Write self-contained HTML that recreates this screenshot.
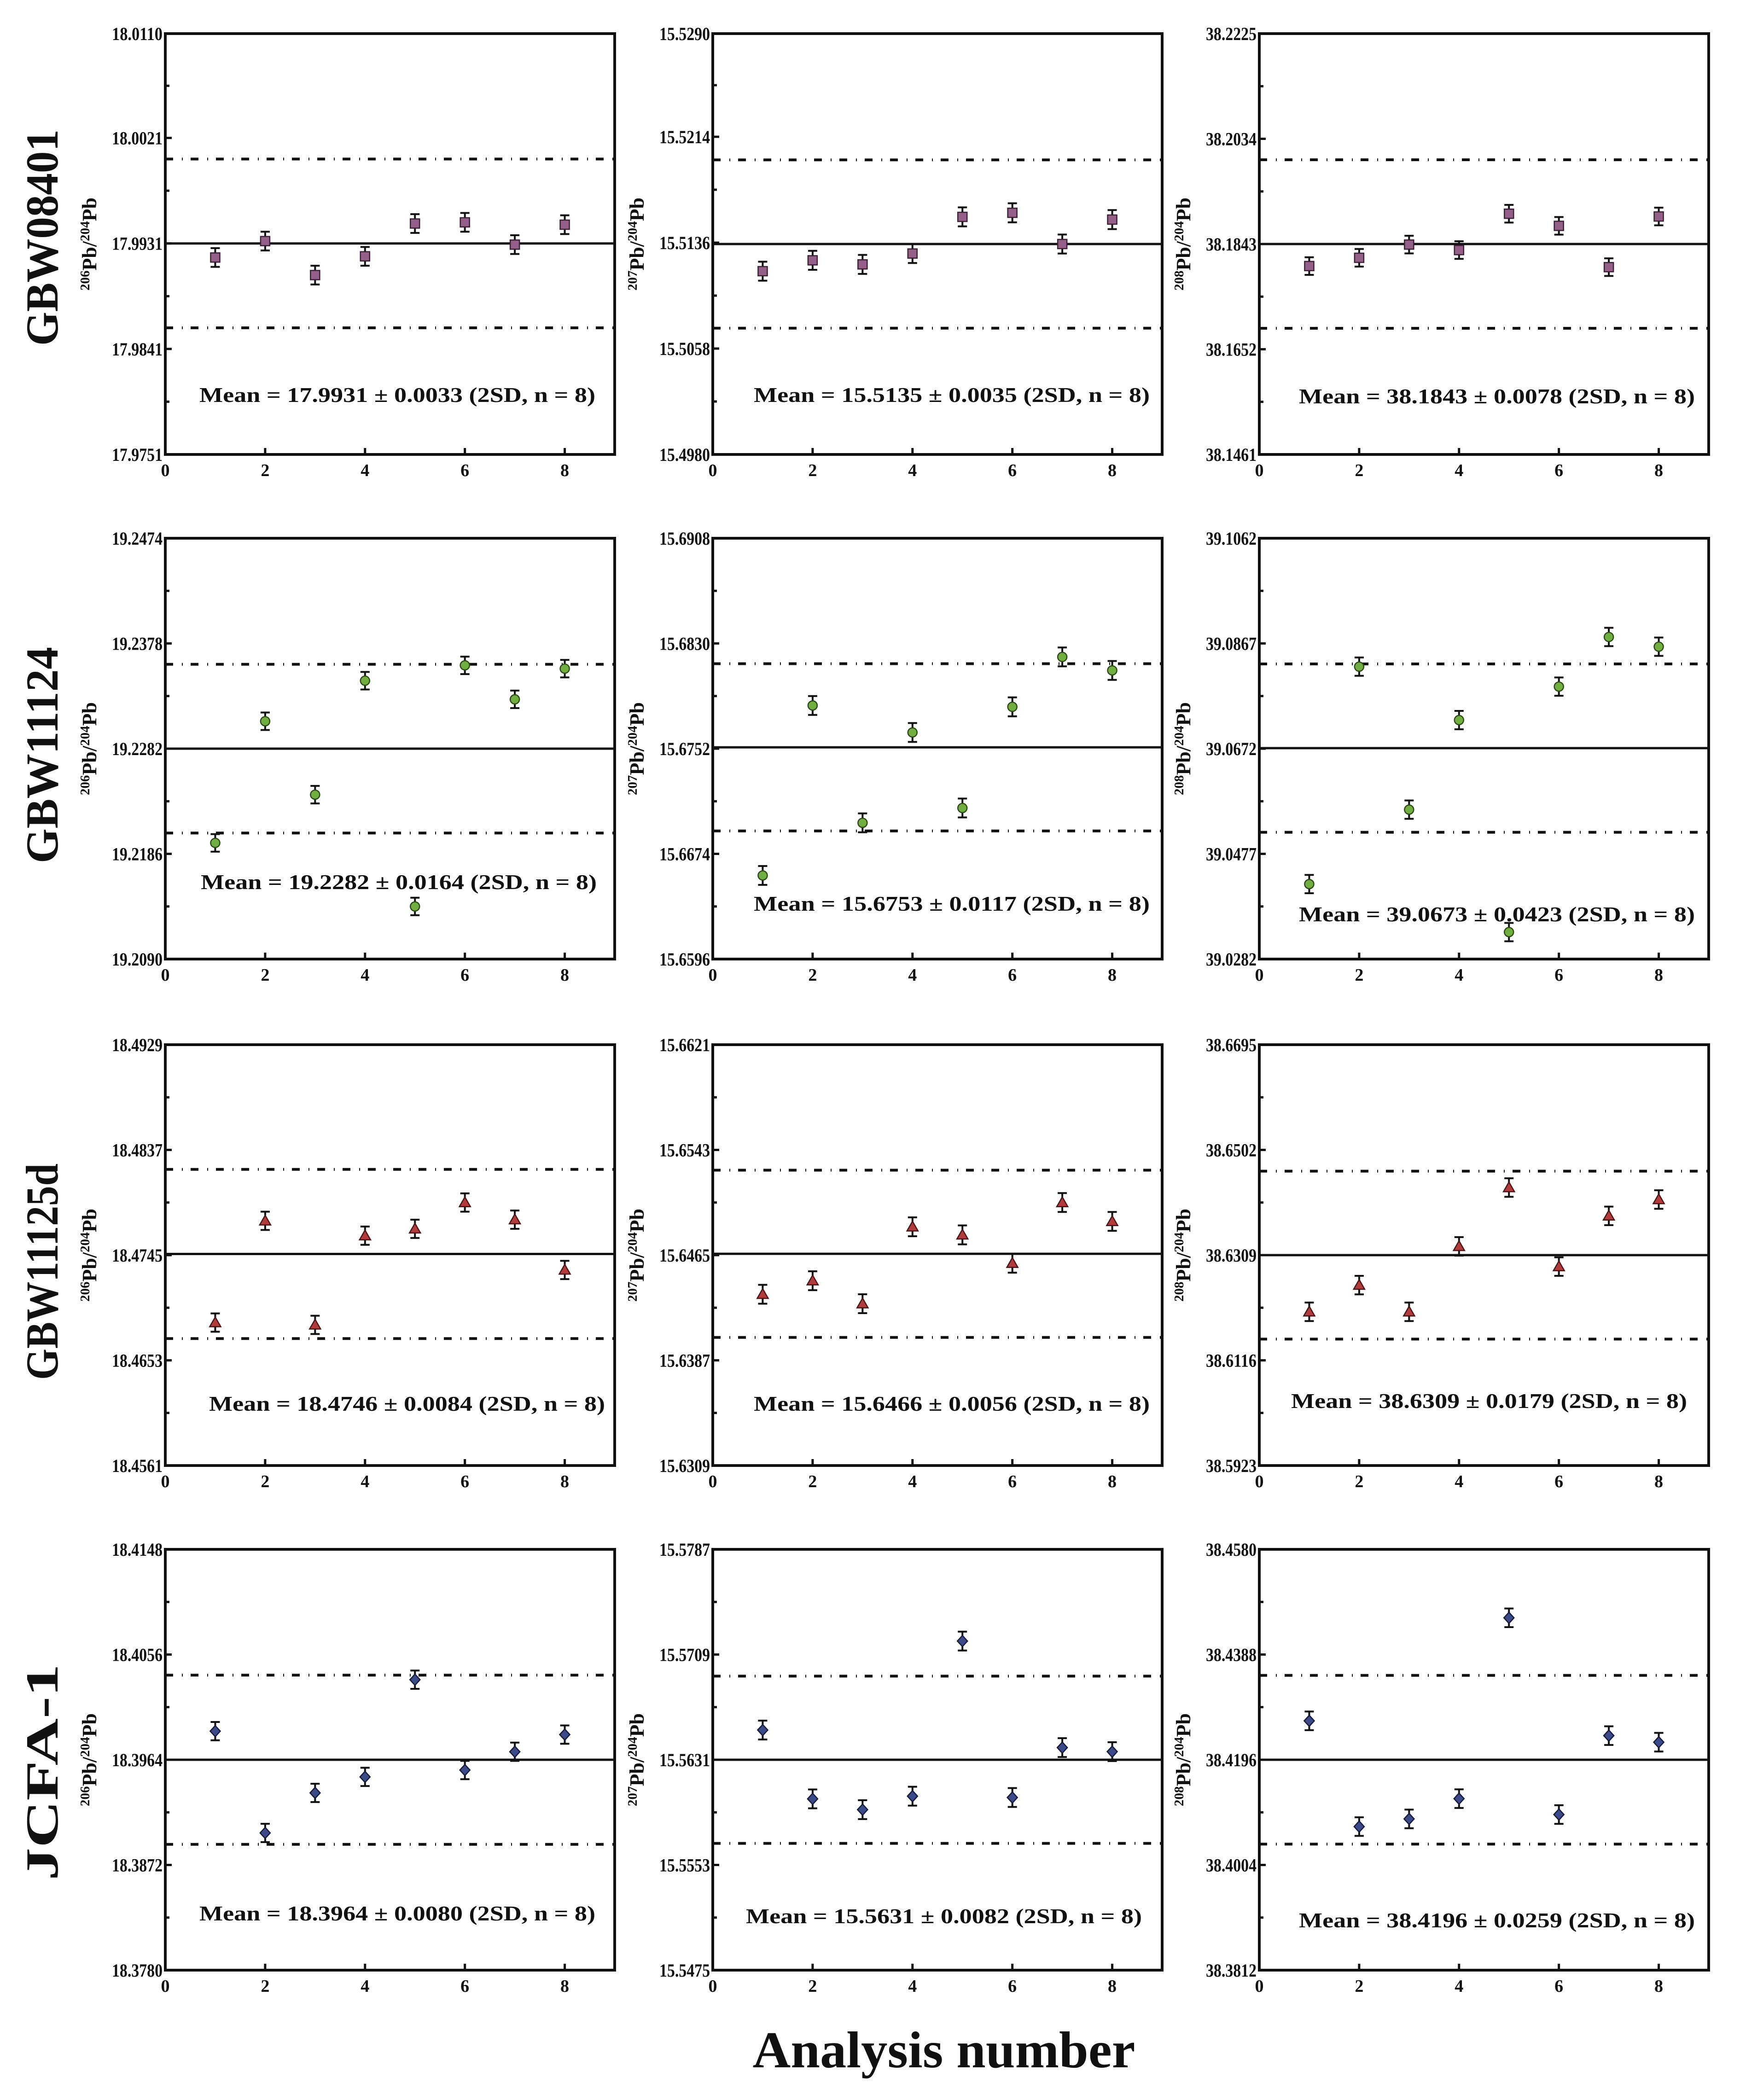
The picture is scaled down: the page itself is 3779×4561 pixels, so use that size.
<!DOCTYPE html>
<html><head><meta charset="utf-8"><style>
html,body{margin:0;padding:0;background:#fff}
svg{display:block}
text{font-family:"Liberation Serif",serif;font-weight:bold;fill:#111}
</style></head><body>
<svg id="fig" width="3779" height="4561" viewBox="0 0 3779 4561" xmlns="http://www.w3.org/2000/svg">
<rect width="3779" height="4561" fill="#fff"/>
<text x="2050" y="4490" font-size="112" text-anchor="middle" textLength="831" lengthAdjust="spacingAndGlyphs">Analysis number</text>
</svg>
<script>
const analysisNumbers = [1,2,3,4,5,6,7,8];
const xTicks = [0,2,4,6,8];
const rowLabels = ["GBW08401","GBW11124","GBW11125d","JCFA-1"];
const numerators = ["206","207","208"];

const ticks1 = ["17.9751","17.9841","17.9931","18.0021","18.0110"];
const ticks2 = ["15.4980","15.5058","15.5136","15.5214","15.5290"];
const ticks3 = ["38.1461","38.1652","38.1843","38.2034","38.2225"];
const ticks4 = ["19.2090","19.2186","19.2282","19.2378","19.2474"];
const ticks5 = ["15.6596","15.6674","15.6752","15.6830","15.6908"];
const ticks6 = ["39.0282","39.0477","39.0672","39.0867","39.1062"];
const ticks7 = ["18.4561","18.4653","18.4745","18.4837","18.4929"];
const ticks8 = ["15.6309","15.6387","15.6465","15.6543","15.6621"];
const ticks9 = ["38.5923","38.6116","38.6309","38.6502","38.6695"];
const ticks10 = ["18.3780","18.3872","18.3964","18.4056","18.4148"];
const ticks11 = ["15.5475","15.5553","15.5631","15.5709","15.5787"];
const ticks12 = ["38.3812","38.4004","38.4196","38.4388","38.4580"];

const values1 = [17.9919,17.9933,17.9904,17.9920,17.9948,17.9949,17.9930,17.9947];
const values2 = [15.5115,15.5123,15.5120,15.5128,15.5155,15.5158,15.5135,15.5153];
const values3 = [38.1803,38.1818,38.1842,38.1832,38.1898,38.1876,38.1801,38.1893];
const values4 = [19.2196,19.2307,19.2240,19.2344,19.2138,19.2358,19.2327,19.2355];
const values5 = [15.6658,15.6784,15.6697,15.6764,15.6708,15.6783,15.6820,15.6810];
const values6 = [39.0421,39.0824,39.0559,39.0725,39.0332,39.0787,39.0879,39.0861];
const values7 = [18.4686,18.4775,18.4684,18.4762,18.4768,18.4791,18.4776,18.4732];
const values8 = [15.6436,15.6446,15.6429,15.6486,15.6480,15.6459,15.6504,15.6490];
const values9 = [38.6205,38.6254,38.6205,38.6325,38.6433,38.6288,38.6381,38.6411];
const values10 = [18.3989,18.3900,18.3935,18.3949,18.4034,18.3955,18.3971,18.3986];
const values11 = [15.5653,15.5602,15.5594,15.5604,15.5719,15.5603,15.5640,15.5637];
const values12 = [38.4267,38.4074,38.4088,38.4125,38.4455,38.4096,38.4240,38.4228];

const errors1 = [0.0008,0.0008,0.0008,0.0008,0.0008,0.0008,0.0008,0.0008];
const errors2 = [0.0007,0.0007,0.0007,0.0007,0.0007,0.0007,0.0007,0.0007];
const errors3 = [0.0016,0.0016,0.0016,0.0016,0.0016,0.0016,0.0016,0.0016];
const errors4 = [0.0008,0.0008,0.0008,0.0008,0.0008,0.0008,0.0008,0.0008];
const errors5 = [0.0007,0.0007,0.0007,0.0007,0.0007,0.0007,0.0007,0.0007];
const errors6 = [0.0017,0.0017,0.0017,0.0017,0.0017,0.0017,0.0017,0.0017];
const errors7 = [0.0008,0.0008,0.0008,0.0008,0.0008,0.0008,0.0008,0.0008];
const errors8 = [0.0007,0.0007,0.0007,0.0007,0.0007,0.0007,0.0007,0.0007];
const errors9 = [0.0017,0.0017,0.0017,0.0017,0.0017,0.0017,0.0017,0.0017];
const errors10 = [0.0008,0.0008,0.0008,0.0008,0.0008,0.0008,0.0008,0.0008];
const errors11 = [0.0007,0.0007,0.0007,0.0007,0.0007,0.0007,0.0007,0.0007];
const errors12 = [0.0017,0.0017,0.0017,0.0017,0.0017,0.0017,0.0017,0.0017];

const means = [17.9931,15.5135,38.1843,19.2282,15.6753,39.0673,18.4746,15.6466,38.6309,18.3964,15.5631,38.4196];
const twoSD = ["0.0033","0.0035","0.0078","0.0164","0.0117","0.0423","0.0084","0.0056","0.0179","0.0080","0.0082","0.0259"];
const upperLimits = [18.0003,15.5197,38.1996,19.2359,15.6815,39.0829,18.4820,15.6528,38.6463,18.4038,15.5693,38.4350];
const lowerLimits = [17.9859,15.5073,38.1690,19.2205,15.6691,39.0517,18.4672,15.6404,38.6155,18.3890,15.5569,38.4042];

const allTicks=[ticks1,ticks2,ticks3,ticks4,ticks5,ticks6,ticks7,ticks8,ticks9,ticks10,ticks11,ticks12];
const allValues=[values1,values2,values3,values4,values5,values6,values7,values8,values9,values10,values11,values12];
const allErrors=[errors1,errors2,errors3,errors4,errors5,errors6,errors7,errors8,errors9,errors10,errors11,errors12];

const NS="http://www.w3.org/2000/svg";
const svg=document.getElementById('fig');
const colLeft=[359,1548,2735], rowTop=[73,1169,2269,3365], PW=976, PH=914;
const meanTextDy=[784,784,787,746,793,816,779,779,773,790,796,805];
const meanTextDx=[504,519,516,507,519,516,525,519,499,504,502,516];
const rowLabelDy=[443,471,493,484];
const markerFill=["#94608a","#6fae3f","#b23b3b","#3b4a88"];
const markerStroke=["#3a1f35","#2c4a18","#4a1414","#141a3a"];

function mk(tag,attrs,parent){const e=document.createElementNS(NS,tag);for(const k in attrs)e.setAttribute(k,attrs[k]);(parent||svg).appendChild(e);return e;}

for(let r=0;r<4;r++){
  const lab=mk('text',{x:0,y:0,'font-size':100,'text-anchor':'middle',textLength:470,lengthAdjust:'spacingAndGlyphs',transform:`translate(125,${rowTop[r]+rowLabelDy[r]}) rotate(-90)`});
  
  
  lab.textContent=rowLabels[r];
  for(let c=0;c<3;c++){
    const i=r*3+c;
    const L=colLeft[c],T=rowTop[r],R=L+PW,B=T+PH;
    const tk=allTicks[i].map(Number);
    const ymin=tk[0],ymax=tk[4];
    const sx=v=>L+v/9*PW;
    const sy=v=>B-(v-ymin)/(ymax-ymin)*PH;
    const g=mk('g',{});
    
    
    [upperLimits[i],lowerLimits[i]].forEach((v,k)=>{
      const d=mk('line',{x1:L,x2:R,y1:sy(v),y2:sy(v),stroke:'#111','stroke-width':6,'stroke-dasharray':'17 19 2 17'},g);
      
      
    });
    const m=mk('line',{x1:L,x2:R,y1:sy(means[i]),y2:sy(means[i]),stroke:'#111','stroke-width':5},g);
    
    
    const fr=mk('rect',{x:L,y:T,width:PW,height:PH,fill:'none',stroke:'#111','stroke-width':6},g);
    
    
    for(let k=0;k<5;k++){
      const y=sy(tk[k]);
      mk('line',{x1:L,x2:L+14,y1:y,y2:y,stroke:'#111','stroke-width':5},g);
      const t=mk('text',{x:L-6,y:y+14,'font-size':40,'text-anchor':'end',textLength:110,lengthAdjust:'spacingAndGlyphs'},g);
      
      
      t.textContent=allTicks[i][k];
      if(k<4){const ym=sy((tk[k]+tk[k+1])/2);mk('line',{x1:L,x2:L+9,y1:ym,y2:ym,stroke:'#111','stroke-width':5},g);}
    }
    xTicks.forEach(v=>{
      const x=sx(v);
      mk('line',{x1:x,x2:x,y1:B,y2:B-14,stroke:'#111','stroke-width':5},g);
      const t=mk('text',{x:x,y:B+47,'font-size':38,'text-anchor':'middle'},g);
      
      
      t.textContent=v;
    });
    const yt=mk('text',{x:0,y:0,'font-size':44,'text-anchor':'middle',transform:`translate(${L-150},${(T+B)/2}) rotate(-90)`},g);
    
    
    yt.innerHTML=`<tspan font-size="29" dy="-15">${numerators[c]}</tspan><tspan dy="15">Pb/</tspan><tspan font-size="29" dy="-15">204</tspan><tspan dy="15">Pb</tspan>`;
    const vals=allValues[i],errs=allErrors[i];
    analysisNumbers.forEach((n,j)=>{
      const x=sx(n),y=sy(vals[j]),e1=sy(vals[j]+errs[j]),e2=sy(vals[j]-errs[j]);
      const pg=mk('g',{},g);
      
      
      mk('line',{x1:x,x2:x,y1:e1,y2:e2,stroke:'#111','stroke-width':4},pg);
      mk('line',{x1:x-10,x2:x+10,y1:e1,y2:e1,stroke:'#111','stroke-width':4},pg);
      mk('line',{x1:x-10,x2:x+10,y1:e2,y2:e2,stroke:'#111','stroke-width':4},pg);
      const st={fill:markerFill[r],stroke:markerStroke[r],'stroke-width':2.5};
      if(r===0) mk('rect',Object.assign({x:x-10,y:y-10,width:20,height:20},st),pg);
      else if(r===1) mk('circle',Object.assign({cx:x,cy:y,r:10},st),pg);
      else if(r===2) mk('polygon',Object.assign({points:`${x},${y-12} ${x+12},${y+9} ${x-12},${y+9}`},st),pg);
      else mk('polygon',Object.assign({points:`${x},${y-12} ${x+11},${y} ${x},${y+12} ${x-11},${y}`},st),pg);
    });
    const mt=mk('text',{x:L+meanTextDx[i],y:T+meanTextDy[i]+16,'font-size':46,'text-anchor':'middle',textLength:860,lengthAdjust:'spacingAndGlyphs'},g);
    
    
    mt.textContent=`Mean = ${means[i].toFixed(4)} ± ${twoSD[i]} (2SD, n = 8)`;
  }
}
</script>
</body></html>
